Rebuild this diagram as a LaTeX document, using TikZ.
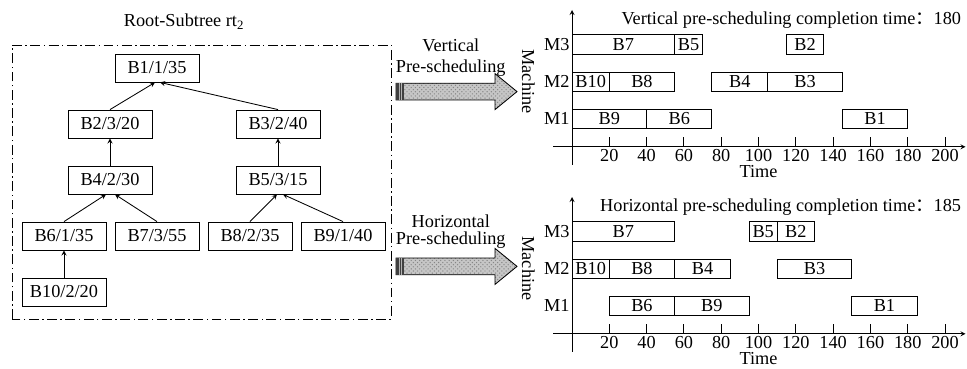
\documentclass[tikz,border=0pt]{standalone}
\usepackage{fontspec}
\setmainfont{Liberation Serif}
\newfontfamily\cjk{Noto Sans CJK SC}
\usetikzlibrary{patterns}

% one bar of a schedule: name, row, start, end, label
\newcommand{\gbar}[5]{%
  \pgfmathsetmacro{\gw}{(#4-#3)*0.04663}%
  \node[gbox, minimum width=\gw cm] (#1) at ({(#3+#4)/2},#2) {#5};}

\begin{document}
\begin{tikzpicture}[>=stealth, semithick, font=\fontsize{13}{15}\selectfont,
  blk/.style={draw, minimum width=2.1cm, minimum height=0.7cm, inner sep=0pt},
  gbox/.style={draw, minimum height=0.48cm, inner sep=0pt},
  fat/.style={draw, preaction={fill=gray!45}, pattern=crosshatch dots, pattern color=gray!95}]
  \useasboundingbox (0,0) rectangle (24.175,9.2);

  % subtree
  \draw[dash pattern=on 7pt off 2.5pt on 1pt off 2.5pt] (0.3,1.225) rectangle (9.775,8.075);
  \node (title) at (4.6,8.66) {Root-Subtree rt\textsubscript{2}};
  \node[blk] (b1) at (3.925,7.5) {B1/1/35};
  \node[blk] (b2) at (2.75,6.1) {B2/3/20};
  \node[blk] (b3) at (6.95,6.1) {B3/2/40};
  \node[blk] (b4) at (2.75,4.7) {B4/2/30};
  \node[blk] (b5) at (6.95,4.7) {B5/3/15};
  \node[blk] (b6) at (1.6,3.3) {B6/1/35};
  \node[blk] (b7) at (3.925,3.3) {B7/3/55};
  \node[blk] (b8) at (6.25,3.3) {B8/2/35};
  \node[blk] (b9) at (8.575,3.3) {B9/1/40};
  \node[blk] (b10) at (1.6,1.9) {B10/2/20};

  \draw[->] (b2.north) -- ([xshift=-0.05cm]b1.south);
  \draw[->] (b3.north) -- ([xshift=0.075cm]b1.south);
  \draw[->] (b4.north) -- (b2.south);
  \draw[->] (b5.north) -- (b3.south);
  \draw[->] (b6.north) -- ([xshift=-0.1cm]b4.south);
  \draw[->] (b7.north) -- ([xshift=0.125cm]b4.south);
  \draw[->] (b8.north) -- ([xshift=-0.025cm]b5.south);
  \draw[->] (b9.north) -- ([xshift=0.125cm]b5.south);
  \draw[->] (b10.north) -- (b6.south);

  % big arrows
  \node (vlab1) at (11.27,8.06) {Vertical};
  \node (vlab2) at (11.27,7.5) {Pre-scheduling};
  \draw[fat] (9.9,7.12) -- (12.375,7.12) -- (12.375,7.36) -- (12.925,6.91) -- (12.375,6.46) -- (12.375,6.70) -- (9.9,6.70) -- cycle;
  \fill[black!75] (9.9,6.70) rectangle (10.1,7.12);
  \draw[gray!60, thin] (9.97,6.70) -- (9.97,7.12) (10.04,6.70) -- (10.04,7.12);

  \node (hlab1) at (11.27,3.68) {Horizontal};
  \node (hlab2) at (11.27,3.2) {Pre-scheduling};
  \draw[fat] (9.9,2.75) -- (12.375,2.75) -- (12.375,2.99) -- (12.925,2.54) -- (12.375,2.09) -- (12.375,2.33) -- (9.9,2.33) -- cycle;
  \fill[black!75] (9.9,2.33) rectangle (10.1,2.75);
  \draw[gray!60, thin] (9.97,2.33) -- (9.97,2.75) (10.04,2.33) -- (10.04,2.75);

  % vertical schedule
  \begin{scope}[shift={(14.3,5.53)}, x=0.04663cm]
    \draw[->] (0,-0.45) -- (0,3.42);
    \draw[->] (-10,0) -- (211,0);
    \foreach \tm in {20,40,...,200} {
      \draw (\tm,0) -- (\tm,0.25);
      \node[inner sep=0pt] (vt\tm) at (\tm,-0.21) {\tm};
    }
    \node[inner sep=0pt] (vtime) at (100,-0.63) {Time};
    \node[left, inner sep=1.5pt] (vm1) at (0,0.70) {M1};
    \node[left, inner sep=1.5pt] (vm2) at (0,1.63) {M2};
    \node[left, inner sep=1.5pt] (vm3) at (0,2.56) {M3};
    \node[rotate=-90] (vmach) at (-23.4,1.63) {Machine};
    \node[anchor=east, inner sep=0pt] (vtitle) at (208.8,3.17) {Vertical pre-scheduling completion time{\cjk ：}180};
    \gbar{v7}{2.56}{0}{55}{B7}
    \gbar{v5}{2.56}{55}{70}{B5}
    \gbar{v2}{2.56}{115}{135}{B2}
    \gbar{v10}{1.63}{0}{20}{B10}
    \gbar{v8}{1.63}{20}{55}{B8}
    \gbar{v4}{1.63}{75}{105}{B4}
    \gbar{v3}{1.63}{105}{145}{B3}
    \gbar{v9}{0.70}{0}{40}{B9}
    \gbar{v6}{0.70}{40}{75}{B6}
    \gbar{v1}{0.70}{145}{180}{B1}
  \end{scope}

  % horizontal schedule
  \begin{scope}[shift={(14.3,0.855)}, x=0.04663cm]
    \draw[->] (0,-0.45) -- (0,3.42);
    \draw[->] (-10,0) -- (211,0);
    \foreach \tm in {20,40,...,200} {
      \draw (\tm,0) -- (\tm,0.25);
      \node[inner sep=0pt] (ht\tm) at (\tm,-0.21) {\tm};
    }
    \node[inner sep=0pt] (htime) at (100,-0.63) {Time};
    \node[left, inner sep=1.5pt] (hm1) at (0,0.70) {M1};
    \node[left, inner sep=1.5pt] (hm2) at (0,1.63) {M2};
    \node[left, inner sep=1.5pt] (hm3) at (0,2.56) {M3};
    \node[rotate=-90] (hmach) at (-23.4,1.63) {Machine};
    \node[anchor=east, inner sep=0pt] (htitle) at (208.8,3.17) {Horizontal pre-scheduling completion time{\cjk ：}185};
    \gbar{h7}{2.56}{0}{55}{B7}
    \gbar{h5}{2.56}{95}{110}{B5}
    \gbar{h2}{2.56}{110}{130}{B2}
    \gbar{h10}{1.63}{0}{20}{B10}
    \gbar{h8}{1.63}{20}{55}{B8}
    \gbar{h4}{1.63}{55}{85}{B4}
    \gbar{h3}{1.63}{110}{150}{B3}
    \gbar{h6}{0.70}{20}{55}{B6}
    \gbar{h9}{0.70}{55}{95}{B9}
    \gbar{h1}{0.70}{150}{185}{B1}
  \end{scope}
\end{tikzpicture}
\end{document}
